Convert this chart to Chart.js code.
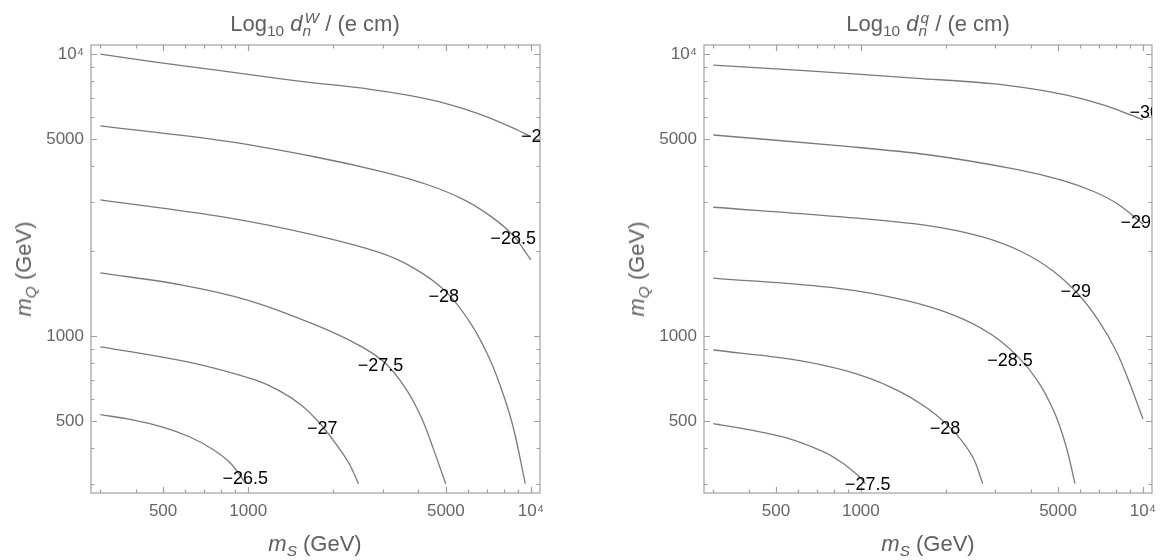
<!DOCTYPE html>
<html>
<head>
<meta charset="utf-8">
<script src="https://cdn.jsdelivr.net/npm/chart.js@4.4.1/dist/chart.umd.min.js"></script>
<style>
  body { margin: 0; background: #fff; width: 1167px; height: 560px; overflow: hidden; position: relative;
         font-family: "Liberation Sans", Arial, sans-serif; }
  canvas { position: absolute; top: 0; }
  .txt { position: absolute; color: #606060; font-size: 22px; white-space: nowrap; line-height: 1; }
  .txt sub, .txt sup { font-size: 70%; line-height: 0; }
  .ttl { transform: translateX(-50%); top: 13px; }
  .xl { transform: translateX(-50%); top: 533px; }
  .yl { transform: translate(-50%, -50%) rotate(-90deg); }
</style>
</head>
<body>
<canvas id="cW" width="583" height="560" style="left:0"></canvas>
<canvas id="cQ" width="584" height="560" style="left:583px"></canvas>

<div class="txt ttl" style="left:315px">Log<sub>10</sub> <i>d</i><sub><i>n</i></sub><sup style="margin-left:-0.42em"><i>W</i></sup> / (e cm)</div>
<div class="txt ttl" style="left:928px">Log<sub>10</sub> <i>d</i><sub><i>n</i></sub><sup style="margin-left:-0.42em"><i>q</i></sup> / (e cm)</div>
<div class="txt xl" style="left:315px"><i>m</i><sub><i>S</i></sub> (GeV)</div>
<div class="txt xl" style="left:928px"><i>m</i><sub><i>S</i></sub> (GeV)</div>
<div class="txt yl" style="left:24px;top:269px"><i>m</i><sub><i>Q</i></sub> (GeV)</div>
<div class="txt yl" style="left:637px;top:269px"><i>m</i><sub><i>Q</i></sub> (GeV)</div>

<script>
// tick values (same on both axes)
const majorTicks = [500, 1000, 5000, 10000];
const minorTicks = [300, 400, 600, 700, 800, 900, 2000, 3000, 4000, 6000, 7000, 8000, 9000];
const tickText = {500: "500", 1000: "1000", 5000: "5000", 10000: "10\u2074"};

// contours of log10 d_n^W, [mS, mQ] in GeV
const w_m29 = [[300,10000],[444,9440],[811,8710],[1483,8035],[2704,7500],[3664,7145],[4943,6693],[6693,6085],[9036,5358],[10000,5082]];
const w_m285 = [[300,5559],[832,4909],[1730,4315],[2992,3824],[4315,3441],[5781,3049],[7198,2663],[8644,2276],[10000,1862]];
const w_m28 = [[300,3040],[832,2636],[1730,2277],[2938,1974],[3855,1743],[4995,1441],[6175,1095],[7198,817],[8035,610],[8708,464],[9550,300]];
const w_m275 = [[300,1675],[578,1521],[1000,1340],[1730,1096],[2495,922],[3050,803],[3594,656],[4086,518],[4508,401],[4995,300]];
const w_m27 = [[300,916],[481,848],[693,788],[1064,698],[1291,640],[1550,567],[1795,490],[2040,416],[2276,353],[2455,300]];
const w_m265 = [[300,527],[386,506],[499,476],[622,439],[746,398],[864,355],[982,300]];
const w_labels = [["\u221229",10450,5082],["\u221228.5",8650,2208],["\u221228",4920,1380],
                  ["\u221227.5",2938,782],["\u221227",1828,469],["\u221226.5",977,311]];

// contours of log10 d_n^q
const q_m30 = [[300,9141],[632,8730],[1585,8204],[2917,7852],[3954,7551],[5370,7145],[7278,6592],[9036,6085],[10000,5848]];
const q_m295 = [[300,5164],[832,4732],[1730,4395],[3594,3895],[5180,3567],[6693,3256],[8184,2929],[10000,2495]];
const q_m29 = [[300,2864],[832,2653],[1730,2466],[2683,2251],[3728,1988],[4815,1699],[5888,1410],[6940,1140],[8035,886],[9036,669],[10000,508]];
const q_m285 = [[300,1607],[832,1478],[1441,1339],[2154,1183],[2886,1018],[3594,848],[4238,693],[4852,537],[5335,408],[5741,300]];
const q_m28 = [[300,893],[578,826],[896,751],[1291,656],[1730,553],[2154,455],[2494,372],[2704,300]];
const q_m275 = [[300,490],[401,466],[545,436],[738,389],[861,355],[985,318],[1038,300]];
const q_labels = [["\u221230",10150,6180],["\u221229.5",10020,2523],["\u221229",5781,1435],
                  ["\u221228.5",3381,817],["\u221228",1986,469],["\u221227.5",1057,297]];

const allTicks = majorTicks.concat(minorTicks).sort((a, b) => a - b);

function framePlugin(labels) {
  return {
    id: "frame",
    afterDraw(chart) {
      const ctx = chart.ctx, a = chart.chartArea;
      const x = chart.scales.x, y = chart.scales.y;
      ctx.save();
      ctx.strokeStyle = "#a0a0a0";
      ctx.lineWidth = 1.2;
      ctx.strokeRect(a.left, a.top, a.right - a.left, a.bottom - a.top);
      ctx.beginPath();
      allTicks.forEach(v => {
        const len = majorTicks.includes(v) ? 6 : 3.5;
        const px = Math.round(x.getPixelForValue(v)) + 0.5;
        ctx.moveTo(px, a.bottom); ctx.lineTo(px, a.bottom - len);
        ctx.moveTo(px, a.top); ctx.lineTo(px, a.top + len);
        const py = Math.round(y.getPixelForValue(v)) + 0.5;
        ctx.moveTo(a.left, py); ctx.lineTo(a.left + len, py);
        ctx.moveTo(a.right, py); ctx.lineTo(a.right - len, py);
      });
      ctx.stroke();

      // contour labels, clipped by the frame like the original
      ctx.beginPath();
      ctx.rect(a.left, a.top, a.right - a.left, a.bottom - a.top);
      ctx.clip();
      ctx.fillStyle = "#000";
      ctx.font = '18px "Liberation Sans", Arial, sans-serif';
      ctx.textAlign = "center";
      ctx.textBaseline = "middle";
      labels.forEach(l => ctx.fillText(l[0], x.getPixelForValue(l[1]), y.getPixelForValue(l[2])));
      ctx.restore();
    }
  };
}

function axis(fitFn, pad) {
  return {
    type: "logarithmic", min: 278, max: 10765,
    grid: { display: false, drawTicks: false },
    border: { display: false },
    afterBuildTicks: s => { s.ticks = allTicks.map(v => ({ value: v })); },
    afterFit: fitFn,
    ticks: {
      autoSkip: false, maxRotation: 0, padding: pad, color: "#666",
      font: { size: 17, family: '"Liberation Sans", Arial, sans-serif' },
      callback: v => tickText[v] || ""
    }
  };
}

function makeChart(id, curves, labels, leftW, rightPad) {
  new Chart(document.getElementById(id), {
    type: "line",
    data: {
      datasets: curves.map(c => ({
        data: c.map(p => ({ x: p[0], y: p[1] })),
        borderColor: "#7a7a7a", borderWidth: 1.3, pointRadius: 0, tension: 0.35, fill: false
      }))
    },
    options: {
      responsive: false, animation: false,
      layout: { padding: { left: 0, right: rightPad, top: 45, bottom: 0 } },
      plugins: { legend: { display: false }, tooltip: { enabled: false } },
      scales: {
        x: axis(s => { s.height = 67; }, 8),
        y: axis(s => { s.width = leftW; }, 7)
      }
    },
    plugins: [framePlugin(labels)]
  });
}

makeChart("cW", [w_m29, w_m285, w_m28, w_m275, w_m27, w_m265], w_labels, 91, 43);
makeChart("cQ", [q_m30, q_m295, q_m29, q_m285, q_m28, q_m275], q_labels, 121, 15);
</script>
</body>
</html>
